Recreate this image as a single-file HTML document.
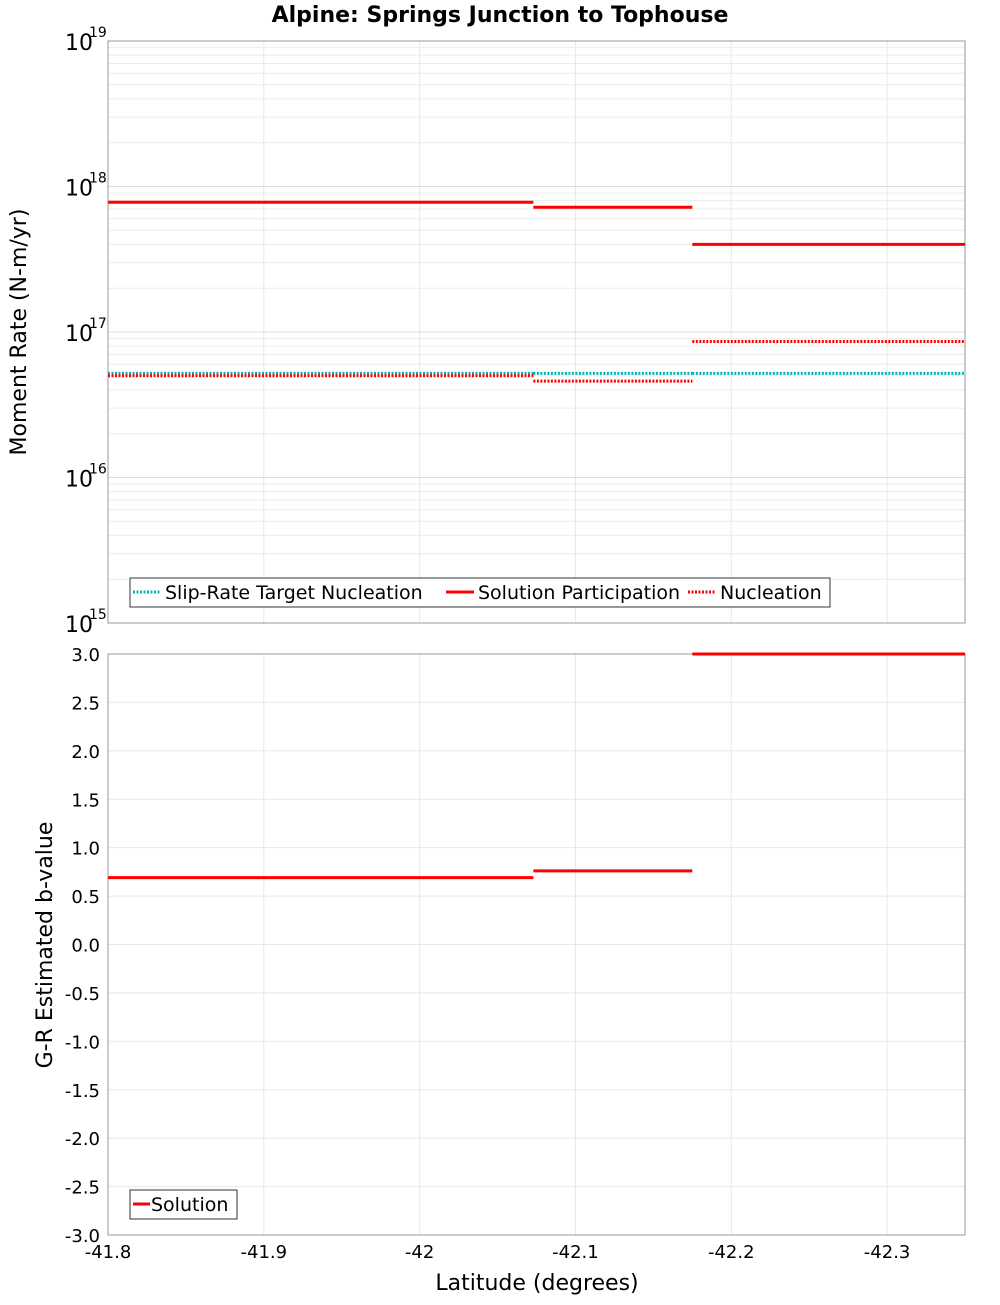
<!DOCTYPE html>
<html><head><meta charset="utf-8"><style>
body{margin:0;background:#fff;font-family:"Liberation Sans","DejaVu Sans",sans-serif}
svg text{font-family:"DejaVu Sans","Liberation Sans",sans-serif}
</style></head><body>
<svg id="c" width="1000" height="1300" xmlns="http://www.w3.org/2000/svg"></svg>
<script>
const segStart=[-41.8,-42.073,-42.175];
const segEnd=[-42.073,-42.175,-42.35];
const targetNuc=[5.2e16,5.2e16,5.2e16];
const participation=[7.8e17,7.2e17,4.0e17];
const nucleation=[5.0e16,4.6e16,8.6e16];
const bValue=[0.69,0.76,3.0];
const xTicks=[-41.8,-41.9,-42,-42.1,-42.2,-42.3];
const bTicks=[3,2.5,2,1.5,1,0.5,0,-0.5,-1,-1.5,-2,-2.5,-3];
const svg=document.getElementById('c');const NS='http://www.w3.org/2000/svg';
function el(t,a,p){const e=document.createElementNS(NS,t);for(const k in a)e.setAttribute(k,a[k]);(p||svg).appendChild(e);return e;}
const L=108,R=965,T1=41,B1=623,T2=654,B2=1235;
const xs=v=>L+(v-(-41.8))/(-42.35+41.8)*(R-L);
const ys1=v=>B1-(Math.log10(v)-15)/4*(B1-T1);
const ys2=v=>B2-(v+3)/6*(B2-T2);
// grids
for(const t of xTicks){for(const [a,b] of [[T1,B1],[T2,B2]]){const g=el('line',{x1:xs(t),x2:xs(t),y1:a,y2:b,stroke:'#e8e8e8'});}}
for(let d=15;d<19;d++)for(let m=1;m<10;m++){const y=ys1(m*Math.pow(10,d));const g=el('line',{x1:L,x2:R,y1:y,y2:y,stroke:m==1?'#dcdcdc':'#ececec'});}
for(const t of bTicks){const y=ys2(t);const g=el('line',{x1:L,x2:R,y1:y,y2:y,stroke:'#e8e8e8'});}
for(const [a,b] of [[T1,B1],[T2,B2]]){const r=el('rect',{x:L,y:a,width:R-L,height:b-a,fill:'none',stroke:'#999'});}
// series
for(let i=0;i<segStart.length;i++){
 const x1=xs(segStart[i]),x2=xs(segEnd[i]);
 let l=el('line',{x1,x2,y1:ys1(targetNuc[i]),y2:ys1(targetNuc[i]),stroke:'#00b4b4','stroke-width':3,'stroke-dasharray':'2,1.5'});
 l=el('line',{x1,x2,y1:ys1(nucleation[i]),y2:ys1(nucleation[i]),stroke:'#f00','stroke-width':3,'stroke-dasharray':'2,1.5'});
 l=el('line',{x1,x2,y1:ys1(participation[i]),y2:ys1(participation[i]),stroke:'#f00','stroke-width':3});
 l=el('line',{x1,x2,y1:ys2(bValue[i]),y2:ys2(bValue[i]),stroke:'#f00','stroke-width':3});
}
// labels
for(let d=15;d<=19;d++){const y=ys1(Math.pow(10,d));const t=el('text',{x:65,y:y+9,'font-size':22});t.textContent='10';const s=el('text',{x:89,y:y-4,'font-size':14});s.textContent=String(d);}
for(const v of bTicks){const t=el('text',{x:100,y:ys2(v)+7,'font-size':18,'text-anchor':'end'});t.textContent=v.toFixed(1);}
for(const v of xTicks){const t=el('text',{x:xs(v),y:1258,'font-size':18,'text-anchor':'middle'});t.textContent=String(v);}
let t=el('text',{x:500,y:22,'font-size':22,'font-weight':'bold','text-anchor':'middle'});t.textContent='Alpine: Springs Junction to Tophouse';
t=el('text',{x:537,y:1290,'font-size':22,'text-anchor':'middle'});t.textContent='Latitude (degrees)';
t=el('text',{x:0,y:0,'font-size':22,'text-anchor':'middle',transform:'translate(26,332) rotate(-90)'});t.textContent='Moment Rate (N-m/yr)';
t=el('text',{x:0,y:0,'font-size':22,'text-anchor':'middle',transform:'translate(52,945) rotate(-90)'});t.textContent='G-R Estimated b-value';
// legends
let g=el('rect',{x:130,y:578,width:700,height:29,fill:'#fff',stroke:'#333'});
const leg=[[133,'#00b4b4',true,'Slip-Rate Target Nucleation'],[446,'#f00',false,'Solution Participation'],[688,'#f00',true,'Nucleation']];
for(const [x,c,d,txt] of leg){const l=el('line',{x1:x,x2:x+28,y1:592,y2:592,stroke:c,'stroke-width':3});if(d)l.setAttribute('stroke-dasharray','2,1.5');const tt=el('text',{x:x+32,y:599,'font-size':19});tt.textContent=txt;}
g=el('rect',{x:130,y:1190,width:107,height:29,fill:'#fff',stroke:'#333'});
let l=el('line',{x1:133,x2:150,y1:1204,y2:1204,stroke:'#f00','stroke-width':3});
t=el('text',{x:151,y:1211,'font-size':19});t.textContent='Solution';
</script>
</body></html>
